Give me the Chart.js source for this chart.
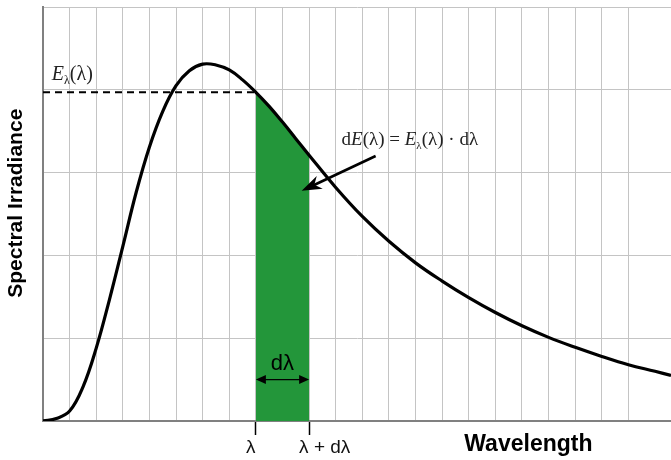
<!DOCTYPE html>
<html>
<head>
<meta charset="utf-8">
<script src="https://cdn.jsdelivr.net/npm/chart.js@4.4.1/dist/chart.umd.min.js"></script>
<style>
  html, body { margin: 0; padding: 0; background: #fff; }
  #wrap { width: 671px; height: 460px; }
</style>
</head>
<body>
<div id="wrap"><canvas id="chart"></canvas></div>
<script>
// curve, both axes in grid units
var wavelength = [0, 0.5, 1, 1.5, 2, 2.5, 3, 3.5, 4, 4.5, 5, 5.5, 6, 6.5, 7, 7.5, 8, 8.5, 9, 9.5, 10, 11, 12, 13, 14, 15, 16, 17, 18, 19, 20, 21, 22, 23, 23.6];
var irradiance = [0, 0.03, 0.12, 0.41, 0.88, 1.47, 2.11, 2.76, 3.31, 3.74, 4.05, 4.23, 4.31, 4.30, 4.24, 4.12, 3.97, 3.80, 3.61, 3.41, 3.21, 2.82, 2.47, 2.17, 1.91, 1.69, 1.49, 1.31, 1.15, 1.01, 0.89, 0.78, 0.68, 0.60, 0.55];

var bandStart = 8;
var bandEnd = 10;

var tickValues = [8, 10];
var tickLabels = ["λ", "λ + dλ"];

var green = "#23963a";
var sans = '"Liberation Sans", Arial, sans-serif';
var serif = '"Liberation Serif", "Times New Roman", serif';

var curve = [];
var band = [];
for (var i = 0; i < wavelength.length; i++) {
    curve.push({x: wavelength[i], y: irradiance[i]});
    if (wavelength[i] >= bandStart && wavelength[i] <= bandEnd) {
        band.push({x: wavelength[i], y: irradiance[i]});
    }
}
var levelAtBand = irradiance[wavelength.indexOf(bandStart)];
var dashed = [{x: 0, y: levelAtBand}, {x: bandStart, y: levelAtBand}];

// where the notes go, in axis units
var notes = {
    eLabel: {x: 0.33, y: 4.12},
    dELabel: {x: 11.22, y: 3.33},
    arrowFrom: {x: 12.5, y: 3.2},
    arrowTo: {x: 9.72, y: 2.78},
    dlArrowY: 0.50,
    dlTextY: 0.69,
    xTitle: {x: 18.24, y: -0.36},
    yTitleY: 2.63
};

function drawRich(ctx, parts, x, y, size) {
    ctx.textAlign = "left";
    ctx.textBaseline = "alphabetic";
    parts.forEach(function(p) {
        var sub = p[1] === "s";
        ctx.font = (p[1] === "i" ? "italic " : "") + (sub ? Math.round(size * 0.58) : size) + "px " + serif;
        ctx.fillText(p[0], x, sub ? y + size * 0.22 : y);
        x += ctx.measureText(p[0]).width;
    });
}

function arrowHead(ctx, x1, y1, x2, y2, len, half, notch) {
    var a = Math.atan2(y2 - y1, x2 - x1);
    ctx.save();
    ctx.translate(x2, y2);
    ctx.rotate(a);
    ctx.beginPath();
    ctx.moveTo(0, 0);
    ctx.lineTo(-len, -half);
    ctx.lineTo(-len + notch, 0);
    ctx.lineTo(-len, half);
    ctx.closePath();
    ctx.fill();
    ctx.restore();
}

var annotate = {
    id: "annotate",
    afterDatasetsDraw: function(chart) {
        var ctx = chart.ctx;
        var xs = chart.scales.x;
        var ys = chart.scales.y;
        var px = function(v) { return xs.getPixelForValue(v); };
        var py = function(v) { return ys.getPixelForValue(v); };
        ctx.save();
        ctx.fillStyle = "#222";
        ctx.strokeStyle = "#000";

        drawRich(ctx, [["E", "i"], ["λ", "s"], ["(λ)", "n"]], px(notes.eLabel.x), py(notes.eLabel.y), 20);
        drawRich(ctx, [["d", "n"], ["E", "i"], ["(λ) = ", "n"], ["E", "i"], ["λ", "s"], ["(λ) · dλ", "n"]],
            px(notes.dELabel.x), py(notes.dELabel.y), 19);

        // pointer arrow into the band
        ctx.fillStyle = "#000";
        var x1 = px(notes.arrowFrom.x), y1 = py(notes.arrowFrom.y);
        var x2 = px(notes.arrowTo.x), y2 = py(notes.arrowTo.y);
        var a = Math.atan2(y2 - y1, x2 - x1);
        ctx.lineWidth = 2.6;
        ctx.beginPath();
        ctx.moveTo(x1, y1);
        ctx.lineTo(x2 - Math.cos(a) * 12, y2 - Math.sin(a) * 12);
        ctx.stroke();
        arrowHead(ctx, x1, y1, x2, y2, 20, 7, 6);

        // d-lambda width marker
        var l = px(bandStart), r = px(bandEnd), yy = py(notes.dlArrowY);
        ctx.lineWidth = 1.4;
        ctx.beginPath();
        ctx.moveTo(l + 6, yy);
        ctx.lineTo(r - 6, yy);
        ctx.stroke();
        arrowHead(ctx, r, yy, l, yy, 10, 4.5, 0);
        arrowHead(ctx, l, yy, r, yy, 10, 4.5, 0);
        ctx.font = "22px " + sans;
        ctx.textAlign = "center";
        ctx.textBaseline = "middle";
        ctx.fillText("dλ", (l + r) / 2, py(notes.dlTextY));

        // axis titles
        ctx.fillStyle = "#000";
        ctx.font = "bold 23px " + sans;
        ctx.textBaseline = "alphabetic";
        ctx.fillText("Wavelength", px(notes.xTitle.x), py(notes.xTitle.y));

        ctx.translate(chart.chartArea.left - 27, py(notes.yTitleY));
        ctx.rotate(-Math.PI / 2);
        ctx.font = "bold 21px " + sans;
        ctx.textBaseline = "middle";
        ctx.fillText("Spectral Irradiance", 0, 0);
        ctx.restore();
    }
};

new Chart(document.getElementById("chart"), {
    type: "line",
    data: {
        datasets: [
            {
                data: curve,
                borderColor: "#000",
                borderWidth: 3.2,
                pointRadius: 0,
                tension: 0.4,
                fill: false
            },
            {
                data: dashed,
                borderColor: "#000",
                borderWidth: 2,
                borderDash: [7, 5],
                pointRadius: 0,
                fill: false
            },
            {
                data: band,
                borderColor: "rgba(0,0,0,0)",
                backgroundColor: green,
                pointRadius: 0,
                tension: 0.4,
                fill: "origin"
            }
        ]
    },
    options: {
        responsive: true,
        maintainAspectRatio: false,
        animation: false,
        layout: {padding: {left: 43, top: 7, right: 0, bottom: 0}},
        plugins: {
            legend: {display: false},
            tooltip: {enabled: false}
        },
        scales: {
            x: {
                type: "linear",
                min: 0,
                max: 23.6,
                afterBuildTicks: function(axis) {
                    axis.ticks = axis.ticks.filter(function(t) { return Number.isInteger(t.value); });
                },
                grid: {
                    color: "#c4c4c4",
                    lineWidth: 1,
                    drawTicks: true,
                    tickLength: 14,
                    tickWidth: 1.5,
                    tickColor: function(c) {
                        return c.tick && tickValues.indexOf(c.tick.value) >= 0 ? "#000" : "rgba(0,0,0,0)";
                    }
                },
                border: {color: "#808080", width: 2},
                ticks: {
                    stepSize: 1,
                    autoSkip: false,
                    maxRotation: 0,
                    align: "start",
                    labelOffset: -10,
                    padding: 3,
                    color: "#111",
                    font: {family: sans, size: 19, lineHeight: 1},
                    callback: function(v) {
                        var k = tickValues.indexOf(v);
                        return k < 0 ? "" : tickLabels[k];
                    }
                }
            },
            y: {
                min: 0,
                max: 5,
                ticks: {display: false, stepSize: 1},
                grid: {color: "#c4c4c4", drawTicks: false},
                border: {color: "#808080", width: 2}
            }
        }
    },
    plugins: [annotate]
});
</script>
</body>
</html>
